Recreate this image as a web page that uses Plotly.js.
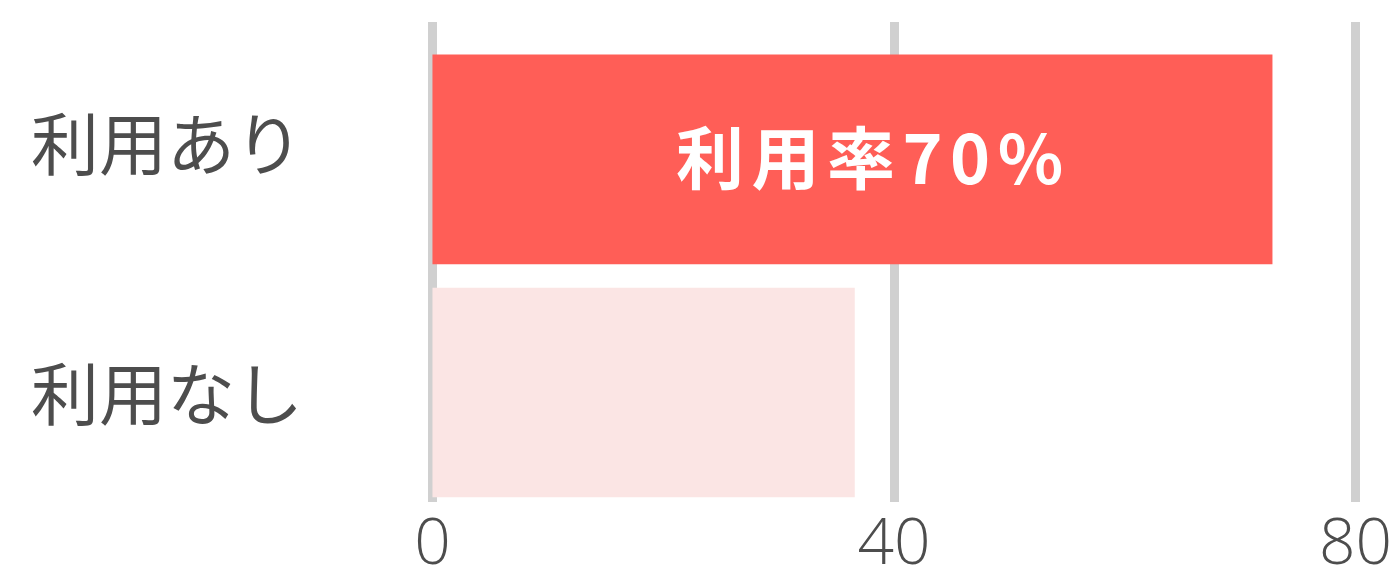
<!DOCTYPE html>
<html>
<head>
<meta charset="utf-8">
<script src="https://cdn.plot.ly/plotly-3.0.1.min.js"></script>
<style>html,body{margin:0;padding:0;background:#fff;}#chart{width:1396px;height:574px;}</style>
</head>
<body>
<div id="chart"></div>
<script>
const categories = ["利用あり", "利用なし"];
const values = [72.8, 36.6];
const barColors = ["#ff5e57", "#fbe5e4"];
const tickValues = [0, 40, 80];
const tickLabels = ["0", "40", "80"];
const barLabel = "利用率70%";

const labelShifts = [19, 1.5];

const trace = {
  type: "bar",
  orientation: "h",
  y: categories,
  x: values,
  marker: {color: barColors, line: {width: 0}},
  hoverinfo: "none"
};

const annotations = categories.map((c, i) => ({
  xref: "paper", yref: "y", x: 0, y: c,
  xanchor: "right", yanchor: "middle",
  xshift: -124, yshift: labelShifts[i],
  text: c, showarrow: false,
  font: {family: "Noto Sans CJK JP", size: 68, color: "#4d4d4d"}
}));
annotations.push({
  xref: "x", yref: "y", x: values[0] / 2, y: categories[0],
  xanchor: "center", yanchor: "middle", xshift: 21, yshift: 5,
  text: '<span style="letter-spacing:7.5px">' + barLabel + '</span>',
  showarrow: false,
  font: {family: "Noto Sans CJK JP", size: 68, color: "#ffffff", weight: 700}
});

const layout = {
  width: 1396, height: 574,
  margin: {l: 429, r: 37, t: 22, b: 72, pad: 0},
  paper_bgcolor: "#ffffff", plot_bgcolor: "#ffffff",
  showlegend: false,
  bargap: 0.1,
  xaxis: {
    range: [-0.3, 80.3],
    tickvals: tickValues, ticktext: tickLabels,
    showgrid: true, gridcolor: "#d0d0d0", gridwidth: 9,
    zeroline: false, showline: false, ticks: "",
    tickfont: {family: "Open Sans", size: 64, color: "#4d4d4d", weight: 300},
    ticklabelstandoff: -3,
    fixedrange: true
  },
  yaxis: {
    type: "category",
    range: [1.47, -0.59],
    showgrid: false, zeroline: false, showline: false,
    showticklabels: false, ticks: "",
    fixedrange: true
  },
  annotations: annotations
};

Plotly.newPlot("chart", [trace], layout, {staticPlot: true, displayModeBar: false});
</script>
</body>
</html>
